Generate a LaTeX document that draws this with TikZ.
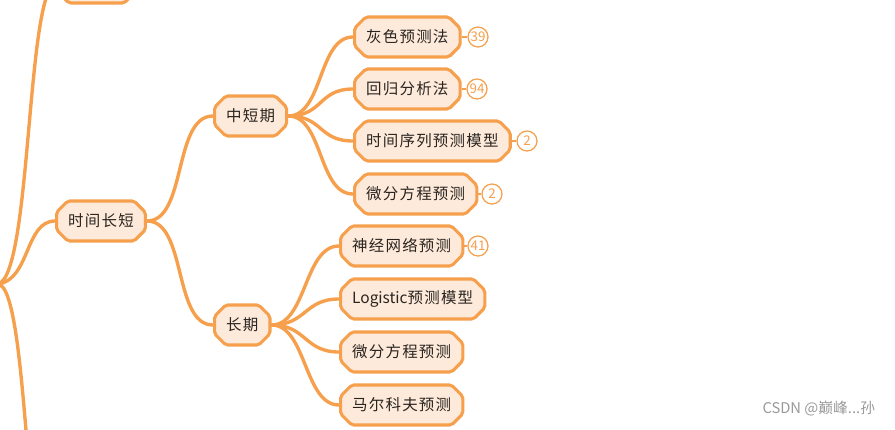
\documentclass[tikz,border=0pt]{standalone}
\usepackage{fontspec}
\setmainfont{Noto Sans CJK SC}[LetterSpace=8]
\newfontfamily\wmfont{Noto Sans CJK SC}
\usetikzlibrary{shapes.misc}
\definecolor{mindorange}{HTML}{F6A04D}
\definecolor{mindfill}{HTML}{FDEADA}
\definecolor{mindtext}{HTML}{2A2420}
\begin{document}
\begin{tikzpicture}[x=0.025cm,y=-0.025cm,
    topic/.style={draw=mindorange,fill=mindfill,line width=2.2pt,text=mindtext,
      chamfered rectangle,chamfered rectangle xsep=4pt,chamfered rectangle ysep=4pt,
      rounded corners=1.5pt,minimum height=1.0cm,inner xsep=0.15cm,font=\fontsize{11}{13}\selectfont,anchor=west},
    badge/.style={circle,draw=mindorange,fill=white,line width=0.9pt,text=mindorange,
      minimum size=0.5cm,inner sep=0pt,font=\fontsize{9.5}{11}\selectfont\addfontfeature{LetterSpace=0}},
    branch/.style={draw=mindorange,line width=2.4pt,line cap=round},
    tie/.style={draw=mindorange,line width=1.2pt}]
    \path[use as bounding box,clip](0,0)rectangle(895,429);
    % root and the cut-off neighbours
    \coordinate(root)at(-2,284);
    \node[topic,minimum width=1.9cm](above)at(57,-17){};
    \node[topic,minimum width=1.9cm](below)at(57,600){};
    \node[topic](span)at(55,221){时间长短};
    \node[topic](mid)at(213,116){中短期};
    \node[topic](long)at(213,325){长期};
    % mid term
    \node[topic](grey)at(353,37){灰色预测法};
    \node[topic](regr)at(353,89){回归分析法};
    \node[topic](tser)at(353,141){时间序列预测模型};
    \node[topic](diffa)at(353,194){微分方程预测};
    % long term
    \node[topic](neur)at(339,246){神经网络预测};
    \node[topic](logi)at(339,299){{\addfontfeature{LetterSpace=0}Logistic}预测模型};
    \node[topic](diffb)at(339,352){微分方程预测};
    \node[topic](mark)at(339,405){马尔科夫预测};
    % counts
    \node[badge](ngrey)at(478,37){39};
    \node[badge](nregr)at(477,89){94};
    \node[badge](ntser)at(527,141){2};
    \node[badge](ndiffa)at(492,194){2};
    \node[badge](nneur)at(478,246){41};
    \draw[tie](grey.east)--(ngrey.west);
    \draw[tie](regr.east)--(nregr.west);
    \draw[tie](tser.east)--(ntser.west);
    \draw[tie](diffa.east)--(ndiffa.west);
    \draw[tie](neur.east)--(nneur.west);
    % branches
    \draw[branch](root)..controls(32,276)and(26,-17)..(above.west);
    \draw[branch](root)..controls(30,288)and(24,600)..(below.west);
    \draw[branch](root)..controls(30,280)and(25,221)..(span.west);
    \draw[branch](span.east)..controls+(40,0)and+(-40,0)..(mid.west);
    \draw[branch](span.east)..controls+(40,0)and+(-40,0)..(long.west);
    \foreach \leaf in {grey,regr,tser,diffa}
        \draw[branch](mid.east)..controls+(35,0)and+(-35,0)..(\leaf.west);
    \foreach \leaf in {neur,logi,diffb,mark}
        \draw[branch](long.east)..controls+(35,0)and+(-35,0)..(\leaf.west);
    \node[anchor=east,text=gray!80,font=\wmfont\fontsize{10.5}{12}\selectfont](mark0)at(880,409){CSDN @巅峰...孙};
\end{tikzpicture}
\end{document}
